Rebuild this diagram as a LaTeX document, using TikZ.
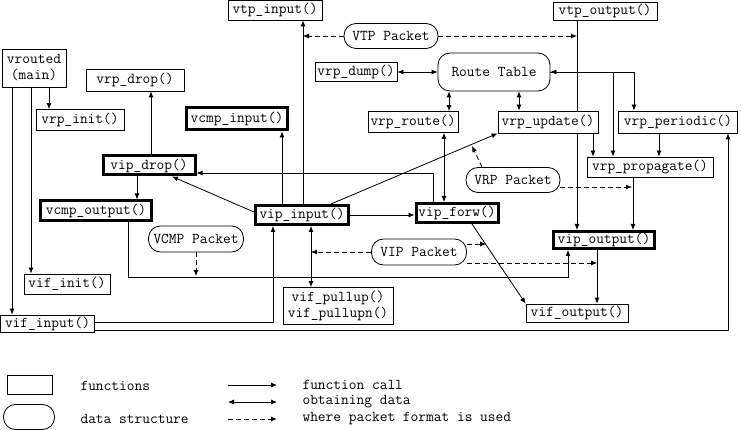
\documentclass[tikz,border=0pt]{standalone}
\usepackage{fontspec}
\usetikzlibrary{arrows.meta}
\pgfdeclarelayer{bg}
\pgfsetlayers{bg,main}

\begin{document}
\begin{tikzpicture}[x=1pt, y=-1pt,
    every node/.style={font=\ttfamily\fontsize{15}{16}\selectfont},
    func/.style={draw, fill=white, line width=0.8pt, inner sep=0pt, minimum height=20pt},
    core/.style={func, line width=3pt},
    data/.style={draw, fill=white, line width=0.8pt, rounded corners=12pt, inner sep=0pt, minimum height=25pt},
    call/.style={line width=0.8pt, -{Latex[length=6pt,width=5pt]}},
    obtain/.style={line width=0.8pt, {Latex[length=6pt,width=5pt]}-{Latex[length=6pt,width=5pt]}},
    pkt/.style={line width=0.8pt, dash pattern=on 5pt off 3pt, -{Latex[length=6pt,width=5pt]}}]
    \useasboundingbox (0,0) rectangle (741,430);

    % functions
    \node[func, minimum width=94pt] (vtpinput) at (275,10) {vtp\_input()};
    \node[func, minimum width=104pt, minimum height=18pt] (vtpoutput) at (605,11) {vtp\_output()};
    \node[func, minimum width=82pt, minimum height=19pt] (vrpdump) at (356,72) {vrp\_dump()};
    \node[func, minimum width=90pt, minimum height=21pt] (vrproute) at (413,122) {vrp\_route()};
    \node[func, minimum width=100pt, minimum height=22pt] (vrpupdate) at (548,122) {vrp\_update()};
    \node[func, minimum width=119pt, minimum height=22pt] (vrpperiodic) at (678,122) {vrp\_periodic()};
    \node[func, minimum width=126pt] (vrppropagate) at (650,167) {vrp\_propagate()};
    \node[func, minimum width=102pt, minimum height=18pt] (vifoutput) at (577,313) {vif\_output()};
    \node[func, minimum width=98pt, minimum height=22pt] (vrpdrop) at (135,80) {vrp\_drop()};
    \node[func, minimum width=64pt, minimum height=38pt, align=center] (vrouted) at (34,68) {vrouted\\(main)};
    \node[func, minimum width=88pt, minimum height=21pt] (vrpinit) at (80,120) {vrp\_init()};
    \node[func, minimum width=86pt] (vifinit) at (67,284) {vif\_init()};
    \node[func, minimum width=94pt, minimum height=17pt] (vifinput) at (47.5,323.5) {vif\_input()};
    \node[func, minimum width=110pt, minimum height=37pt, align=center] (vifpullup) at (338,306) {vif\_pullup()\\vif\_pullupn()};

    % ip/cmp layer
    \node[core, minimum width=101pt, minimum height=17pt] (vipoutput) at (604,240) {vip\_output()};
    \node[core, minimum width=82pt, minimum height=19pt] (vipforw) at (457,213) {vip\_forw()};
    \node[core, minimum width=93pt, minimum height=19pt] (vipinput) at (302,215) {vip\_input()};
    \node[core, minimum width=101pt, minimum height=22pt] (vcmpinput) at (237,119) {vcmp\_input()};
    \node[core, minimum width=92pt, minimum height=19pt] (vipdrop) at (149,165.5) {vip\_drop()};
    \node[core, minimum width=111pt, minimum height=20pt] (vcmpoutput) at (96,211) {vcmp\_output()};

    % data structures
    \node[data, minimum width=94pt] (vtppkt) at (391,36) {VTP Packet};
    \node[data, minimum width=112pt, minimum height=38pt] (route) at (494,72) {Route Table};
    \node[data, minimum width=94pt] (vrppkt) at (513,180) {VRP Packet};
    \node[data, minimum width=95pt, minimum height=26pt] (vippkt) at (419,252) {VIP Packet};
    \node[data, minimum width=95pt, minimum height=26pt] (vcmppkt) at (196,239) {VCMP Packet};

    \begin{pgfonlayer}{bg}
        % function calls
        \draw[call] (vrouted.south -| 49,0) -- (vrpinit.north -| 49,0);
        \draw[call] (vrouted.south -| 31,0) -- (vifinit.north -| 31,0);
        \draw[call] (vrouted.south -| 12,0) -- (vifinput.north -| 12,0);
        \draw[call] (vipdrop.north -| 151,0) -- (vrpdrop.south -| 151,0);
        \draw[call] (vipdrop.south -| 137,0) -- (vcmpoutput.north -| 137,0);
        \draw[call] (vipinput.west |- 0,212) -- (vipdrop.south -| 172,0);
        \draw[call] (vipforw.north -| 433,0) |- (vipdrop.east |- 0,173);
        \draw[call] (vipinput.north -| 282,0) -- (vcmpinput.south -| 282,0);
        \draw[call] (vipinput.north -| 303,0) -- (vtpinput.south -| 303,0);
        \draw[call] (vtpoutput.south -| 577,0) -- (vipoutput.north -| 577,0);
        \draw[call] (route.east) -| (vrpperiodic.north -| 634,0);
        \draw[call] (vrpupdate.south -| 593,0) -- (vrppropagate.north -| 593,0);
        \draw[call] (vrpperiodic.south -| 659,0) -- (vrppropagate.north -| 659,0);
        \draw[call] (vrppropagate.south -| 633,0) -- (vipoutput.north -| 633,0);
        \draw[call] (vipoutput.south -| 597,0) -- (vifoutput.north -| 597,0);
        \draw[call] (vifinput.east |- 0,322) -| (vipinput.south -| 273,0);
        \draw[call] (vifinput.east |- 0,330) -| (vrpperiodic.south -| 728,0);
        \draw[call] (vipinput.north -| 331,0) -- (vrpupdate.south west);
        \draw[call] (vipinput.east) -- (vipinput.east -| vipforw.west);
        \draw[call] (vipforw.south -| 472,0) -- (vifoutput.north west);
        \draw[call] (vcmpoutput.south -| 128,0) |- (568,277) -- (vipoutput.south -| 568,0);

        % obtaining data
        \draw[obtain] (vrpdump.east) -- (route.west);
        \draw[obtain] (route.south -| 449,0) -- (vrproute.north -| 449,0);
        \draw[obtain] (route.south -| 519,0) -- (vrpupdate.north -| 519,0);
        \draw[obtain] (route.east) -| (vrppropagate.north -| 613,0);
        \draw[obtain] (vrproute.south -| 444,0) -- (vipforw.north -| 444,0);
        \draw[obtain] (vipinput.south -| 311,0) -- (vifpullup.north -| 311,0);

        % packet formats
        \draw[pkt] (vtppkt.west) -- (vtppkt.west -| 303,0);
        \draw[pkt] (vtppkt.east) -- (vtppkt.east -| 577,0);
        \draw[pkt] (vippkt.west) -- (vippkt.west -| 311,0);
        \draw[pkt] (vippkt.east |- 0,244) -- (486,244);
        \draw[pkt] (vippkt.east |- 0,263) -- (597,263);
        \draw[pkt] (vrppkt.north -| 482,0) -- (472,146);
        \draw[pkt] (vrppkt.east |- 0,187) -- (632,187);
        \draw[pkt] (vcmppkt.south) -- (vcmppkt.south |- 0,276);
    \end{pgfonlayer}

    % legend
    \node[func, minimum width=45pt, minimum height=19pt] (legfunc) at (30,385) {};
    \node[data, minimum width=51pt] (legdata) at (29,417) {};
    \node[anchor=west] (txtfunc) at (77,386) {functions};
    \node[anchor=west] (txtdata) at (77,419) {data structure};
    \coordinate (callA) at (228,385);
    \coordinate (callB) at (277,385);
    \coordinate (obtainA) at (228,402);
    \coordinate (obtainB) at (277,402);
    \coordinate (pktA) at (228,419);
    \coordinate (pktB) at (277,419);
    \draw[call] (callA) -- (callB);
    \draw[obtain] (obtainA) -- (obtainB);
    \draw[pkt] (pktA) -- (pktB);
    \node[anchor=west] (txtcall) at (299,385) {function call};
    \node[anchor=west] (txtobtain) at (299,402) {obtaining data};
    \node[anchor=west] (txtpkt) at (299,419) {where packet format is used};
\end{tikzpicture}
\end{document}
